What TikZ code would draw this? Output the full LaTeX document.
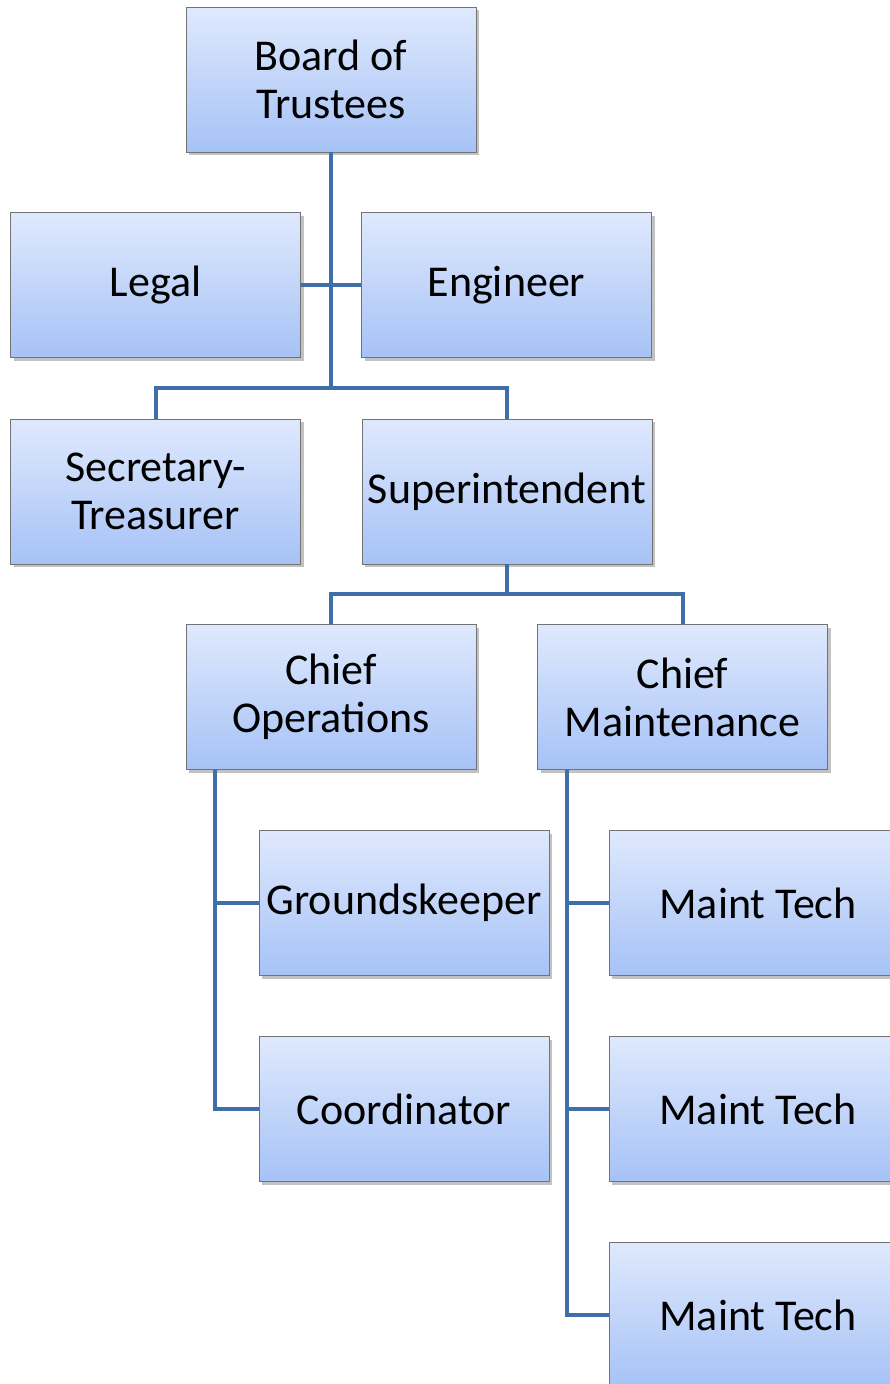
\documentclass[tikz,border=0pt]{standalone}
\usepackage{fontspec}
\setmainfont{Carlito}
\usepackage{tikz}
\usetikzlibrary{shadows}
\definecolor{boxtop}{HTML}{DFE9FD}
\definecolor{boxbottom}{HTML}{A6C2F6}
\definecolor{linkblue}{HTML}{3F6EA8}
\begin{document}
\begin{tikzpicture}[x=1pt,y=-1pt,
    box/.style={shape=rectangle,align=center,minimum width=290pt,minimum height=145pt,inner sep=0pt,
        top color=boxtop,bottom color=boxbottom,draw=black!55,line width=0.8pt,
        drop shadow={shadow xshift=3pt,shadow yshift=-3pt,fill=black!40,opacity=0.6},
        font=\fontsize{44}{48}\selectfont},
    link/.style={draw=linkblue,line width=4pt}]
    \useasboundingbox (0,0) rectangle (889,1384);
    % top levels
    \node[box] (board) at (331,79.5) {Board of\\Trustees};
    \node[box] (legal) at (155.5,285) {Legal};
    \node[box] (engineer) at (506.5,285) {Engineer};
    \node[box] (sec) at (155.5,491.5) {Secretary-\\Treasurer};
    \node[box] (super) at (507,491.5) {Superintendent};
    \node[box] (ops) at (331,697) {Chief\\Operations};
    \node[box] (maint) at (682.5,697) {Chief\\Maintenance};
    % staff
    \node[box] (grounds) at (404,903) {Groundskeeper};
    \node[box] (coord) at (404,1109) {Coordinator};
    \node[box] (tech1) at (754,903) {\hspace*{8pt}Maint Tech};
    \node[box] (tech2) at (754,1109) {\hspace*{8pt}Maint Tech};
    \node[box] (tech3) at (754,1315) {\hspace*{8pt}Maint Tech};
    % connectors
    \coordinate (j1) at (331,388);
    \coordinate (j2) at (507,594);
    \draw[link] (board.south) -- (j1);
    \draw[link] (legal.east) -- (engineer.west);
    \draw[link] (sec.north) |- (j1) -| (super.north);
    \draw[link] (super.south) -- (j2);
    \draw[link] (ops.north) |- (j2) -| (maint.north);
    \draw[link] ([xshift=29pt]ops.south west) |- (grounds.west);
    \draw[link] ([xshift=29pt]ops.south west) |- (coord.west);
    \draw[link] ([xshift=30pt]maint.south west) |- (tech1.west);
    \draw[link] ([xshift=30pt]maint.south west) |- (tech2.west);
    \draw[link] ([xshift=30pt]maint.south west) |- (tech3.west);
\end{tikzpicture}
\end{document}
